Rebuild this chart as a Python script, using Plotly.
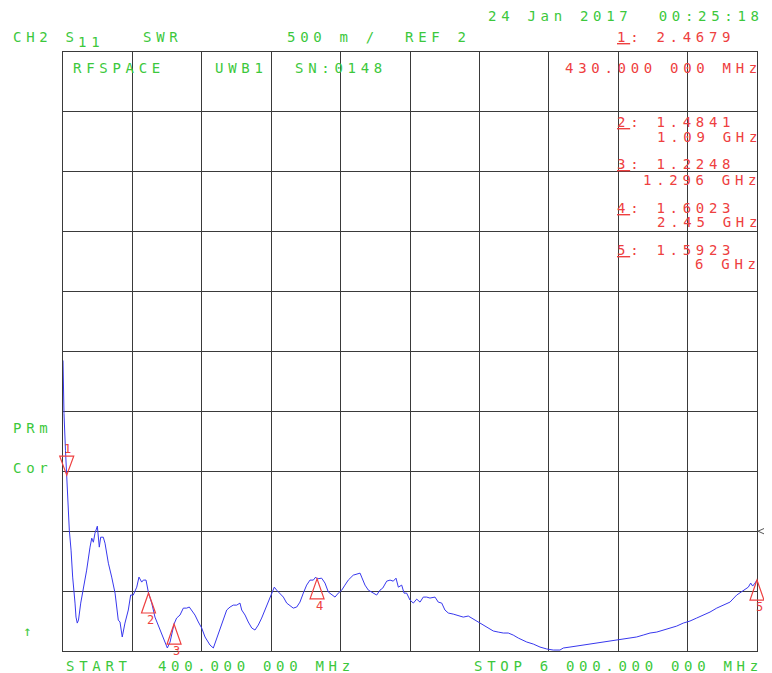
import plotly.graph_objects as go

# ---------------- data ----------------
freq_mhz = [400, 408, 420, 430, 440, 451, 465, 478, 497, 505, 515, 525, 543, 564, 591, 618,
            632, 645, 658, 677, 685, 693, 704, 725, 739, 766, 793, 820, 846, 860, 878, 900,
            927, 946, 967, 995, 1013, 1035, 1048, 1070, 1090, 1116, 1142, 1183, 1223, 1242,
            1264, 1296, 1317, 1344, 1371, 1398, 1419, 1438, 1465, 1492, 1519, 1546, 1586,
            1613, 1640, 1667, 1693, 1721, 1748, 1774, 1802, 1828, 1842, 1869, 1895, 1923,
            1949, 1976, 2003, 2030, 2057, 2084, 2105, 2124, 2151, 2178, 2205, 2232, 2258,
            2286, 2312, 2339, 2366, 2393, 2420, 2439, 2450, 2487, 2514, 2541, 2568, 2595,
            2621, 2649, 2675, 2702, 2742, 2770, 2797, 2810, 2837, 2864, 2891, 2931, 2958,
            2980, 3012, 3039, 3065, 3087, 3106, 3133, 3152, 3173, 3200, 3227, 3254, 3281,
            3307, 3335, 3361, 3402, 3428, 3456, 3482, 3509, 3549, 3590, 3630, 3670, 3698,
            3738, 3765, 3791, 3832, 3872, 3912, 3953, 3993, 4033, 4074, 4142, 4195, 4249,
            4303, 4356, 4410, 4437, 4491, 4545, 4598, 4652, 4707, 4760, 4814, 4868, 4921,
            4975, 5029, 5082, 5137, 5191, 5244, 5298, 5352, 5405, 5459, 5513, 5567, 5621,
            5675, 5728, 5782, 5836, 5889, 5930, 5949, 5965, 5984, 6000]
swr = [3.425, 2.983, 2.675, 2.468, 2.217, 2.008, 1.842, 1.617, 1.400, 1.283, 1.233, 1.258,
       1.400, 1.508, 1.675, 1.867, 1.942, 1.908, 1.983, 2.042, 1.967, 1.867, 1.950, 1.950,
       1.900, 1.733, 1.617, 1.483, 1.258, 1.242, 1.117, 1.233, 1.342, 1.467, 1.467, 1.533,
       1.617, 1.575, 1.592, 1.592, 1.484, 1.400, 1.283, 1.175, 1.067, 1.025, 1.075, 1.225,
       1.275, 1.300, 1.358, 1.358, 1.367, 1.342, 1.300, 1.242, 1.192, 1.117, 1.050, 1.025,
       1.108, 1.192, 1.275, 1.342, 1.367, 1.383, 1.383, 1.400, 1.342, 1.300, 1.242, 1.192,
       1.175, 1.217, 1.275, 1.342, 1.408, 1.467, 1.533, 1.508, 1.483, 1.450, 1.400, 1.375,
       1.358, 1.367, 1.408, 1.483, 1.550, 1.592, 1.592, 1.617, 1.602, 1.608, 1.567, 1.492,
       1.467, 1.450, 1.483, 1.508, 1.550, 1.592, 1.633, 1.642, 1.650, 1.617, 1.550, 1.508,
       1.492, 1.467, 1.508, 1.525, 1.583, 1.592, 1.583, 1.608, 1.533, 1.550, 1.483, 1.483,
       1.425, 1.400, 1.433, 1.408, 1.450, 1.450, 1.442, 1.450, 1.408, 1.400, 1.342, 1.317,
       1.308, 1.292, 1.283, 1.292, 1.275, 1.250, 1.233, 1.217, 1.192, 1.167, 1.158, 1.150,
       1.150, 1.133, 1.108, 1.075, 1.058, 1.033, 1.017, 1.008, 1.008, 1.025, 1.033, 1.042,
       1.050, 1.058, 1.067, 1.075, 1.083, 1.092, 1.100, 1.108, 1.117, 1.133, 1.150, 1.158,
       1.175, 1.192, 1.208, 1.233, 1.250, 1.275, 1.300, 1.325, 1.358, 1.383, 1.408, 1.467,
       1.508, 1.533, 1.567, 1.542, 1.567, 1.592]

marker_ids = ["1", "2", "3", "4", "5"]
marker_freq_mhz = [430, 1090, 1296, 2450, 6000]
marker_swr = [2.4679, 1.4841, 1.2248, 1.6023, 1.5923]
marker_freq_text = ["430.000 000 MHz", "1.09 GHz", "1.296 GHz", "2.45 GHz", "6 GHz"]

F_START, F_STOP = 400, 6000
REF_VALUE, SCALE_PER_DIV, REF_DIV_FROM_BOTTOM, N_DIV = 2.0, 0.5, 2, 10
y_bottom = REF_VALUE - REF_DIV_FROM_BOTTOM * SCALE_PER_DIV
y_top = y_bottom + N_DIV * SCALE_PER_DIV

# ---------------- styling ----------------
PAGE_W, PAGE_H = 772, 673
OFF = 8                                  # default page margin around the figure div
W, H = PAGE_W - OFF, PAGE_H - OFF
PL, PR, PT, PB = 63, 757, 52, 651        # plot frame, in page pixels
GREEN = "#3cc83c"
RED = "#ee4040"
BLUE = "#3838ee"
GRID = "#3a3a3a"
FONT = "DejaVu Sans Mono"
FS = 14
LS = 4.7   # letter spacing (px) to mimic the wide instrument font


def spaced(t, extra=""):
    return '<span style="letter-spacing:%spx%s">%s</span>' % (LS, extra, t)


def pxx(x):
    return (x - PL) / (PR - PL)


def pyy(y):
    return (PB - y) / (PB - PT)


fig = go.Figure()
fig.add_trace(go.Scatter(x=freq_mhz, y=swr, mode="lines",
                         line=dict(color=BLUE, width=1), hoverinfo="skip",
                         showlegend=False))

annotations = []


def text(t, x, y, color=GREEN, size=FS):
    annotations.append(dict(text=t, x=pxx(x), y=pyy(y), xref="paper", yref="paper",
                            xanchor="left", yanchor="middle", align="left",
                            showarrow=False, borderpad=0,
                            font=dict(family=FONT, size=size, color=color)))


# header (green)
text(spaced("24 Jan 2017  00:25:18"), 487, 16)
text(spaced("CH2 S"), 12, 37)
text(spaced("11"), 77, 42)
text(spaced("SWR"), 142, 37)
text(spaced("500 m /"), 286, 37)
text(spaced("REF 2"), 404, 37)
text(spaced("RFSPACE"), 72, 68)
text(spaced("UWB1"), 214, 68)
text(spaced("SN:0148"), 294, 68)

# marker read-out (red)
readout_rows = [(37, 68), (122.5, 136.5), (164, 180), (208, 222), (250, 264)]
readout_x = [564, 656, 642, 656, 694]
for i, mid in enumerate(marker_ids):
    ry1, ry2 = readout_rows[i]
    text(spaced(mid, ";text-decoration:underline") + spaced(": %.4f" % marker_swr[i]),
         616, ry1, color=RED)
    text(spaced(marker_freq_text[i]), readout_x[i], ry2, color=RED)

# left-side labels and footer (green)
text(spaced("PRm"), 12, 428)
text(spaced("Cor"), 12, 468)
text("\u2191", 22, 631)
text(spaced("START  400.000 000 MHz"), 65, 666.5)
text(spaced("STOP 6 000.000 000 MHz"), 473, 666.5)

# marker numbers next to the triangles
label_shift = [(1, 26), (2, -27), (2, -27), (2, -27), (2, -27)]
for i, mid in enumerate(marker_ids):
    dx, dy = label_shift[i]
    annotations.append(dict(text=mid, x=marker_freq_mhz[i], y=marker_swr[i],
                            xref="x", yref="y", xshift=dx, yshift=dy,
                            showarrow=False,
                            font=dict(family=FONT, size=12, color=RED)))

shapes = []
for i, mid in enumerate(marker_ids):
    frac = (marker_freq_mhz[i] - F_START) / (F_STOP - F_START)
    path = "M0,0 L-7,19 L7,19 Z" if i == 0 else "M0,0 L-7,-20 L7,-20 Z"
    shapes.append(dict(type="path", xref="x domain", yref="y",
                       xsizemode="pixel", ysizemode="pixel",
                       xanchor=frac, yanchor=marker_swr[i], path=path,
                       line=dict(color=RED, width=1.2), layer="above"))

# reference-position indicator on the right edge
shapes.append(dict(type="path", xref="x domain", yref="y", xsizemode="pixel",
                   ysizemode="pixel", xanchor=1, yanchor=REF_VALUE,
                   path="M1,0 L10,4 L10,-4 Z", line=dict(color="#555555", width=1)))

axis_common = dict(showgrid=True, gridcolor=GRID, gridwidth=1, showticklabels=False,
                   ticks="", zeroline=False, showline=True, linecolor=GRID,
                   linewidth=1, mirror=True, fixedrange=True)

fig.update_layout(
    width=W, height=H, autosize=False,
    margin=dict(l=PL - OFF, r=PAGE_W - PR, t=PT - OFF, b=PAGE_H - PB, pad=0),
    paper_bgcolor="white", plot_bgcolor="white",
    xaxis=dict(range=[F_START, F_STOP], tick0=F_START,
               dtick=(F_STOP - F_START) / N_DIV, **axis_common),
    yaxis=dict(range=[y_bottom, y_top], tick0=y_bottom, dtick=SCALE_PER_DIV,
               **axis_common),
    annotations=annotations, shapes=shapes, showlegend=False,
)

fig.write_html("out.html")
